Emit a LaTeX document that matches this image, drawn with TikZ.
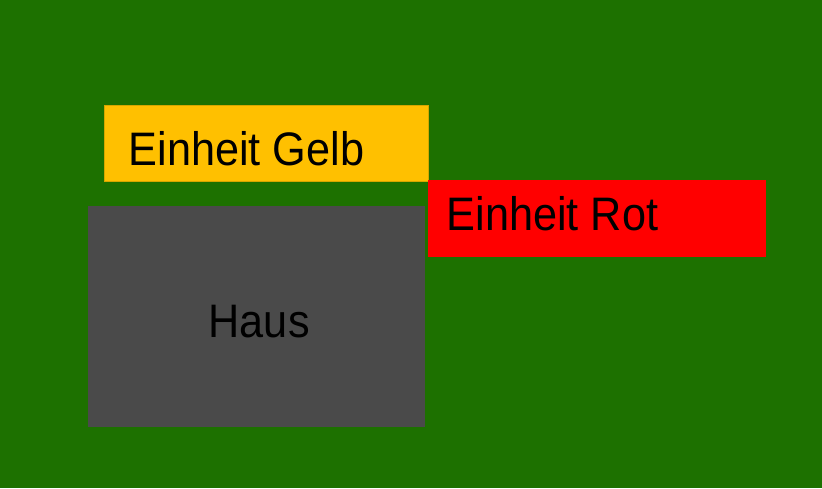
\documentclass[tikz,border=0pt]{standalone}
\usepackage{fontspec}
\setmainfont{Liberation Sans}
\definecolor{bggreen}{RGB}{29,113,0}
\definecolor{ugelb}{RGB}{255,192,0}
\definecolor{ugelbrand}{RGB}{214,166,0}
\definecolor{urot}{RGB}{255,0,0}
\definecolor{hausgrau}{RGB}{74,74,74}
\begin{document}
\begin{tikzpicture}[x=1pt,y=-1pt,
  box/.style={inner sep=0pt, outer sep=0pt, anchor=north west},
  lbl/.style={inner sep=0pt, anchor=base west, text=black, font=\fontsize{47}{47}\selectfont}]
\fill[bggreen] (0,0) rectangle (822,488);
\useasboundingbox (0,0) rectangle (822,488);
\node[box, fill=ugelb, draw=ugelbrand, line width=0.8pt, minimum width=323.5pt, minimum height=75.5pt] (gelb) at (104.5,105.5) {};
\node[box, fill=hausgrau, minimum width=337pt, minimum height=221pt] (haus) at (88,206) {};
\node[box, fill=urot, minimum width=338pt, minimum height=77pt] (rot) at (428,180) {};
\node[lbl] (tgelb) at (128.5,165) {\scalebox{0.92}[1]{Einheit Gelb}};
\node[lbl] (trot) at (446.5,230) {\scalebox{0.92}[1]{Einheit Rot}};
\node[lbl] (thaus) at (208.5,337) {\scalebox{0.92}[1]{Haus}};
\end{tikzpicture}
\end{document}
